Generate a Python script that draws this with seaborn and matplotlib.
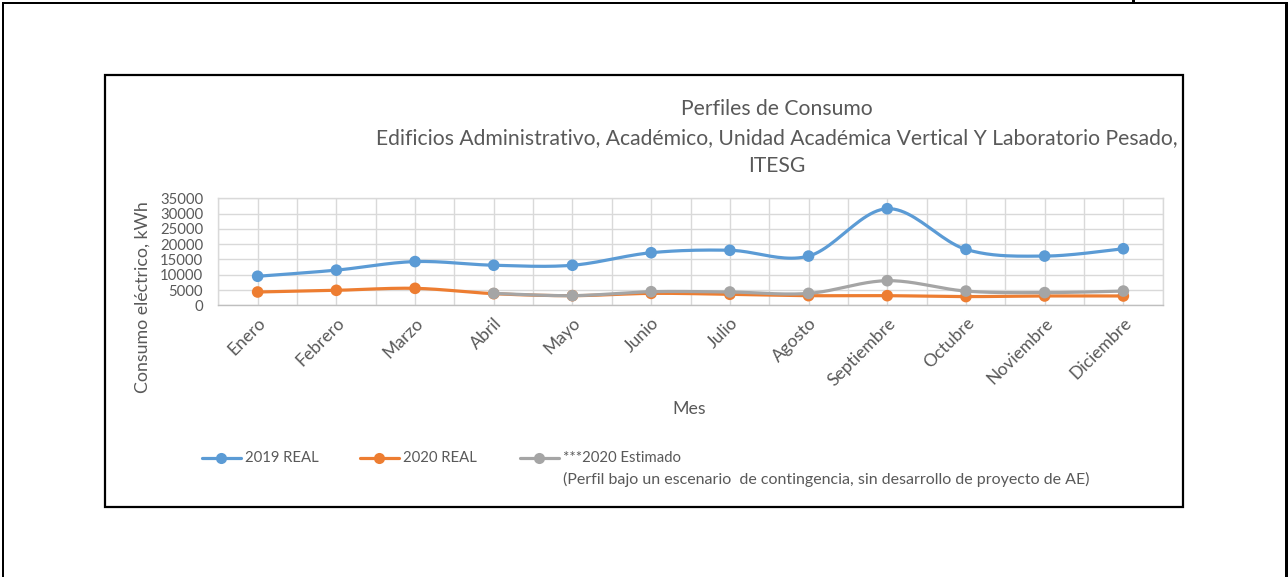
import numpy as np
import pandas as pd
import matplotlib
matplotlib.use("Agg")
import matplotlib.pyplot as plt
from matplotlib.lines import Line2D
from matplotlib.patches import Rectangle
import seaborn as sns

# ---- data (kWh per month) ----
meses = ["Enero", "Febrero", "Marzo", "Abril", "Mayo", "Junio", "Julio",
         "Agosto", "Septiembre", "Octubre", "Noviembre", "Diciembre"]
real_2019 = [9500, 11500, 14300, 13100, 13100, 17200, 18000, 16100,
             31600, 18300, 16100, 18500]
real_2020 = [4350, 4900, 5550, 3800, 3150, 3900, 3600, 3150,
             3150, 2850, 3050, 3050]
# estimated 2020 profile starts in April
estimado_2020 = [3900, 3150, 4450, 4350, 3900, 8050, 4650, 4150, 4650]
estimado_meses = meses[3:]

series_names = ["2019 REAL", "2020 REAL", "***2020 Estimado"]
nota_estimado = "(Perfil bajo un escenario  de contingencia, sin desarrollo de proyecto de AE)"
y_ticks = [0, 5000, 10000, 15000, 20000, 25000, 30000, 35000]

colors = ["#5B9BD5", "#ED7D31", "#A5A5A5"]
text_gray = "#595959"

sns.set_style("white")
plt.rcParams["font.family"] = ["Lato", "DejaVu Sans"]

W, H = 1288, 577
fig = plt.figure(figsize=(W / 100, H / 100), dpi=100)


def fx(x):
    return x / W


def fy(y):
    return 1 - y / H


def smooth(xs, ys, n=24):
    """Cardinal (Catmull-Rom) Bezier smoothing of a polyline."""
    p = np.column_stack([np.asarray(xs, float), np.asarray(ys, float)])
    out = [p[0]]
    t = np.linspace(0, 1, n)[1:, None]
    for i in range(len(p) - 1):
        p0 = p[i - 1] if i > 0 else p[i]
        p1, p2 = p[i], p[i + 1]
        p3 = p[i + 2] if i + 2 < len(p) else p[i + 1]
        c1 = p1 + (p2 - p0) / 6
        c2 = p2 - (p3 - p1) / 6
        seg = ((1 - t) ** 3) * p1 + 3 * ((1 - t) ** 2) * t * c1 \
            + 3 * (1 - t) * t ** 2 * c2 + t ** 3 * p2
        out.extend(seg)
    out = np.array(out)
    return out[:, 0], out[:, 1]


# ---- plot area ----
left, right, top, bottom = 218.3, 1162.7, 198.3, 305.3
ax = fig.add_axes([fx(left), fy(bottom), (right - left) / W, (bottom - top) / H])

pos = {m: i for i, m in enumerate(meses)}
df = pd.concat([
    pd.DataFrame({"mes": meses, "kwh": real_2019, "serie": series_names[0]}),
    pd.DataFrame({"mes": meses, "kwh": real_2020, "serie": series_names[1]}),
    pd.DataFrame({"mes": estimado_meses, "kwh": estimado_2020, "serie": series_names[2]}),
])
df["x"] = df["mes"].map(pos)

for k, (name, col) in enumerate(zip(series_names, colors)):
    sub = df[df["serie"] == name]
    sx, sy = smooth(sub["x"], sub["kwh"])
    sns.lineplot(x=sx, y=sy, ax=ax, color=col, lw=2.3, sort=False,
                 estimator=None, zorder=3 + k, legend=False)
    sns.scatterplot(data=sub, x="x", y="kwh", ax=ax, color=col, s=70,
                    edgecolor="none", zorder=3.5 + k, legend=False)

ax.set_xlim(-0.5, 11.5)
ax.set_ylim(0, 35000)
ax.set_xticks(range(len(meses)))
ax.set_xticks(np.arange(-0.5, 12, 1.0), minor=True)
ax.set_yticks(y_ticks)
ax.set_yticklabels([str(v) for v in y_ticks])
ax.set_xticklabels(meses, rotation=45, rotation_mode="anchor",
                   ha="right", va="top")
ax.grid(True, which="both", color="#D9D9D9", lw=1.0)
ax.set_axisbelow(True)
ax.tick_params(axis="both", which="both", length=0, colors=text_gray)
ax.tick_params(axis="y", labelsize=10.7, pad=11)
ax.tick_params(axis="x", labelsize=12.6, pad=7)
for s, sp in ax.spines.items():
    sp.set_color("#D9D9D9")
    sp.set_linewidth(1.0)
ax.spines["bottom"].set_color("#BFBFBF")
ax.set_xlabel("")
ax.set_ylabel("")

# ---- axis titles ----
fig.text(fx(143), fy(297), "Consumo eléctrico, kWh", rotation=90,
         ha="center", va="center", fontsize=12.8, color=text_gray)
fig.text(fx(689), fy(409), "Mes", ha="center", va="center",
         fontsize=12.8, color=text_gray)

# ---- chart title ----
title_lines = ["Perfiles de Consumo",
               "Edificios Administrativo, Académico, Unidad Académica Vertical Y Laboratorio Pesado,",
               "ITESG"]
for line, yy in zip(title_lines, [109, 138, 166]):
    fig.text(fx(777), fy(yy), line, ha="center", va="center",
             fontsize=15.2, color=text_gray)

# ---- legend ----
leg_y = 458
for name, col, x0 in zip(series_names, colors, [202, 360, 520]):
    fig.add_artist(Line2D([fx(x0), fx(x0 + 39)], [fy(leg_y), fy(leg_y)],
                          color=col, lw=2.3, transform=fig.transFigure))
    fig.add_artist(Line2D([fx(x0 + 19)], [fy(leg_y)], marker="o", ms=8,
                          color=col, mec="none", transform=fig.transFigure))
    fig.text(fx(x0 + 43), fy(leg_y), name, ha="left", va="center",
             fontsize=10.7, color=text_gray)
fig.text(fx(563), fy(479), nota_estimado, ha="left", va="center",
         fontsize=11.5, color=text_gray)

# ---- chart frame and page borders ----
fig.add_artist(Rectangle((fx(105), fy(507)), (1183 - 105) / W, (507 - 75) / H,
                         fill=False, ec="black", lw=1.6,
                         transform=fig.transFigure))


def bar(x0, y0, x1, y1):
    fig.add_artist(Rectangle((fx(x0), fy(y1)), (x1 - x0) / W, (y1 - y0) / H,
                             fc="black", ec="none", transform=fig.transFigure,
                             zorder=10))


bar(1.5, 1.5, 1288, 4)      # top border
bar(1.5, 1.5, 4, 577)       # left border
bar(1285, 1.5, 1288, 577)   # right border
bar(1132, 0, 1134.5, 4)     # cell divider stub

fig.savefig("out.png", dpi=100)
